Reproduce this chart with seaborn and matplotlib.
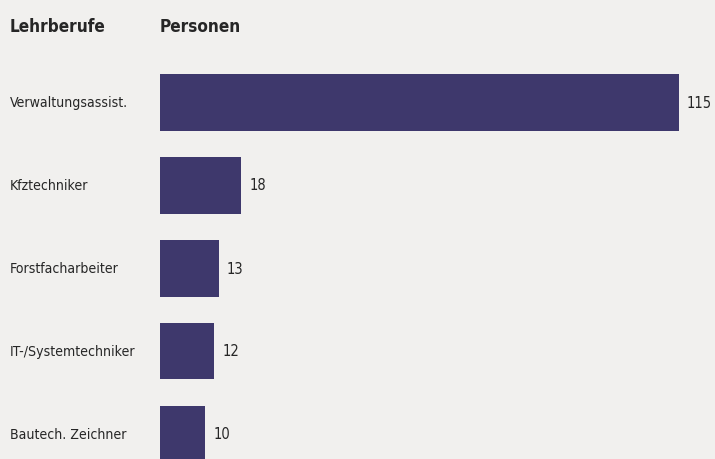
import matplotlib
matplotlib.use("Agg")
import matplotlib.pyplot as plt
import seaborn as sns
import pandas as pd

categories = ["Verwaltungsassist.", "Kfztechniker", "Forstfacharbeiter", "IT-/Systemtechniker", "Bautech. Zeichner"]
values = [115, 18, 13, 12, 10]
header_left = "Lehrberufe"
header_right = "Personen"

df = pd.DataFrame({"Lehrberuf": categories, "Personen": values})

sns.set_theme(style="white")
plt.rcParams["font.family"] = ["DejaVu Sans"]
plt.rcParams["font.stretch"] = "condensed"

bg = "#f1f0ee"
bar_color = "#3e386c"
W, H = 715, 460
fig = plt.figure(figsize=(W / 100, H / 100), dpi=100, facecolor=bg)
ax = fig.add_axes([160 / W, 0, 540 / W, 1])
ax.set_facecolor(bg)

sns.barplot(data=df, x="Personen", y="Lehrberuf", orient="h", color=bar_color,
            saturation=1, width=57 / 83, ax=ax, edgecolor="none")
scale = 519 / 115
ax.set_xlim(0, 540 / scale)
ax.set_ylim(357 / 83, -103 / 83)
for s in ax.spines.values():
    s.set_visible(False)
ax.set_xticks([])
ax.set_yticks([])
ax.set_xlabel("")
ax.set_ylabel("")

txt = dict(stretch="condensed", color="#262626")
for i, (c, v) in enumerate(zip(categories, values)):
    ax.text(v + 8 / scale, i, str(v), va="center", ha="left", fontsize=10.5, **txt)
    fig.text(10 / W, 1 - (103 + 83 * i) / H, c, va="center", ha="left", fontsize=10.1, **txt)

fig.text(10 / W, 1 - 27 / H, header_left, va="center", ha="left", fontsize=12.3, fontweight="bold", **txt)
fig.text(160 / W, 1 - 27 / H, header_right, va="center", ha="left", fontsize=12.3, fontweight="bold", **txt)

fig.savefig("out.png", dpi=100, facecolor=bg)
